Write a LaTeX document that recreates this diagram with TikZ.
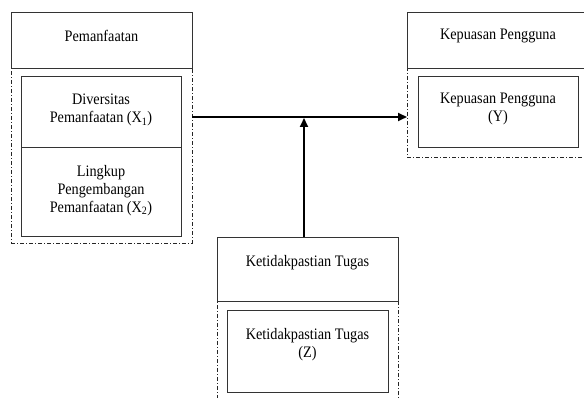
\documentclass[tikz,border=0pt]{standalone}
\usepackage{fontspec}
\setmainfont{Liberation Serif}[FakeStretch=0.89]
\usetikzlibrary{arrows.meta}
\begin{document}
\begin{tikzpicture}[x=1pt,y=-1pt,
  box/.style={draw=black!80, line width=0.9pt, inner sep=0pt, outer sep=0pt, anchor=north west},
  frame/.style={draw=black!85, line width=0.7pt, dash pattern=on 4pt off 2pt on 1pt off 2pt, inner sep=0pt, outer sep=0pt, anchor=north west},
  txt/.style={align=center, inner sep=0pt, font=\fontsize{16}{18}\selectfont},
  arr/.style={line width=2pt, -{Triangle[length=9pt,width=8pt]}}]
\useasboundingbox (0,0) rectangle (584,398);
\clip (0,0) rectangle (584,398);
% left group
\node[frame, minimum width=181pt, minimum height=175pt] (lf) at (11,68) {};
\node[box, minimum width=181pt, minimum height=56pt] (lt) at (11,12) {};
\node[box, minimum width=160pt, minimum height=71pt] (x1) at (21,76) {};
\node[box, minimum width=160pt, minimum height=89pt] (x2) at (21,147) {};
\node[txt] (tlt) at (101.5,35.5) {Pemanfaatan};
\node[txt] (tx1) at (101,110.25) {Diversitas\\Pemanfaatan (X\textsubscript{1})};
\node[txt] (tx2) at (101,190.25) {Lingkup\\Pengembangan\\Pemanfaatan (X\textsubscript{2})};
% right group
\node[frame, minimum width=181pt, minimum height=89pt] (rf) at (407,68) {};
\node[box, minimum width=181pt, minimum height=56pt] (rt) at (407,12) {};
\node[box, minimum width=160pt, minimum height=71pt] (y) at (418,76) {};
\node[txt] (trt) at (498,36.25) {Kepuasan Pengguna};
\node[txt] (ty) at (498,109.25) {Kepuasan Pengguna\\(Y)};
% bottom group
\node[frame, minimum width=181pt, minimum height=120pt] (bf) at (217,301) {};
\node[box, minimum width=181pt, minimum height=64pt] (bt) at (217,237) {};
\node[box, minimum width=161pt, minimum height=82pt] (z) at (227,310) {};
\node[txt] (tbt) at (307.5,262.25) {Ketidakpastian Tugas};
\node[txt] (tz) at (307.5,344.25) {Ketidakpastian Tugas\\(Z)};
% connectors
\coordinate (L) at (192,117);
\coordinate (R) at (407,117);
\coordinate (J) at (304,118);
\draw[arr] (L) -- (R);
\draw[arr] (bt.north -| J) -- (J);
\end{tikzpicture}
\end{document}
